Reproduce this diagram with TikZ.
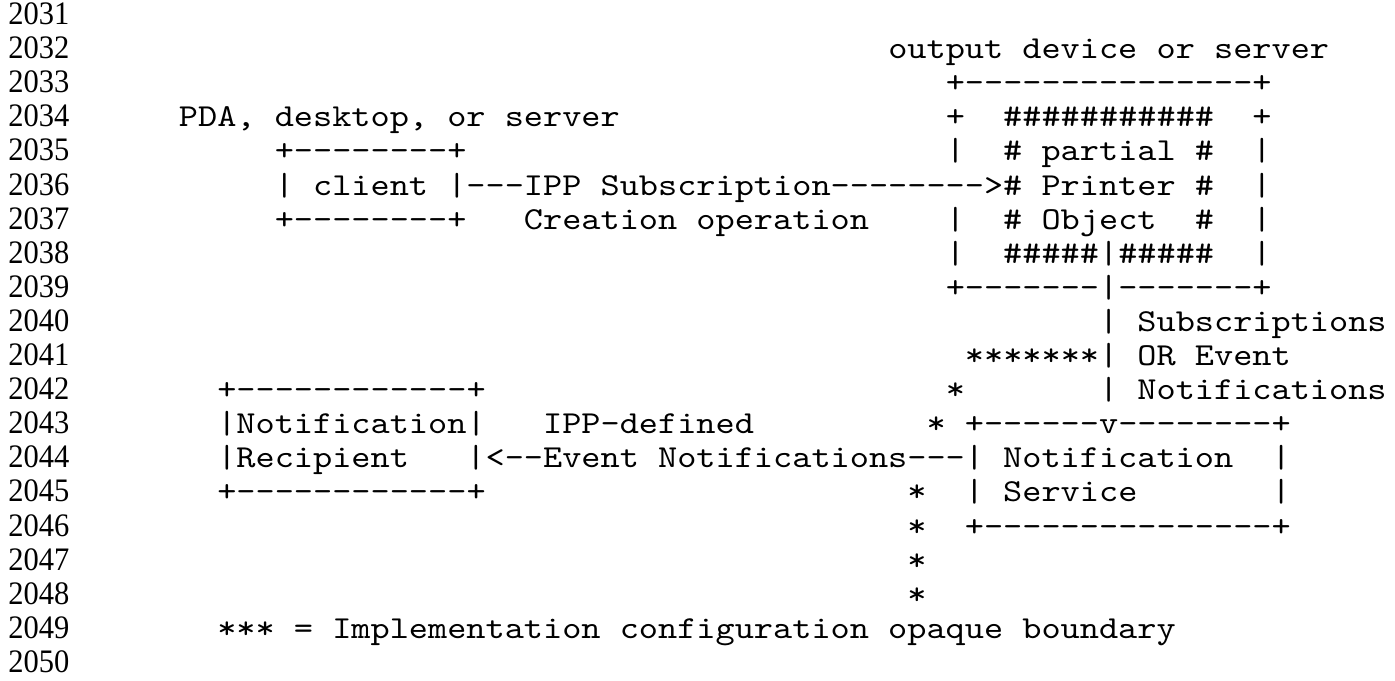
\documentclass[tikz,border=0pt]{standalone}
\usepackage{fontspec}
\setmonofont{lmmono10-regular.otf}[FakeStretch=1.141]
\newfontfamily\numfont{Liberation Serif}[FakeStretch=0.93]

\begin{document}
\begin{tikzpicture}[x=9.585pt,y=-17.05pt,
    mono/.style={font=\ttfamily\fontsize{16}{16}\selectfont,inner sep=0pt,anchor=base west},
    lnum/.style={font=\numfont\fontsize{16.4}{16.4}\selectfont,inner sep=0pt,anchor=base west}]

  % one unit = one character cell, one row = one text line
  \useasboundingbox (-11.315,-0.72) rectangle (61.456,19.222);
  \fill[white] (-11.315,-0.72) rectangle (61.456,19.222);

  % line numbers down the margin
  \foreach \r in {0,...,19}
  {
    \pgfmathtruncatemacro{\num}{2031+\r}
    \node[lnum] (num\r) at (-10.9,\r) {\num};
  }

  % client side
  \node[mono] (pda)       at (-2,3) {PDA, desktop, or server};
  \node[mono] (clienttop) at (3,4)  {+--------+};
  \node[mono] (client)    at (3,5)  {| client |---IPP Subscription-------->\# Printer \#~~|};
  \node[mono] (clientbot) at (3,6)  {+--------+~~~Creation operation};

  % output device with the partial printer object
  \node[mono] (device)    at (35,1) {output device or server};
  \node[mono] (devtop)    at (38,2) {+---------------+};
  \node[mono] (hashtop)   at (38,3) {+~~\#\#\#\#\#\#\#\#\#\#\#~~+};
  \node[mono] (partial)   at (38,4) {|~~\# partial \#~~|};
  \node[mono] (object)    at (38,6) {|~~\# Object~~\#~~|};
  \node[mono] (hashbot)   at (38,7) {|~~\#\#\#\#\#|\#\#\#\#\#~~|};
  \node[mono] (devbot)    at (38,8) {+-------|-------+};

  % link down to the notification service
  \node[mono] (subs)      at (46,9)  {| Subscriptions};
  \node[mono] (orevent)   at (39,10) {*******| OR Event};
  \node[mono] (star11)    at (38,11) {*};
  \node[mono] (notifs)    at (46,11) {| Notifications};

  % notification recipient
  \node[mono] (rectop)    at (0,11) {+------------+};
  \node[mono] (recname)   at (0,12) {|Notification|~~~IPP-defined};
  \node[mono] (svctop)    at (37,12) {* +------v--------+};
  \node[mono] (recarrow)  at (0,13) {|Recipient~~~|<--Event Notifications---| Notification~~|};
  \node[mono] (recbot)    at (0,14) {+------------+};
  \node[mono] (svcname)   at (36,14) {*~~| Service~~~~~~~|};
  \node[mono] (svcbot)    at (36,15) {*~~+---------------+};
  \node[mono] (star16)    at (36,16) {*};
  \node[mono] (star17)    at (36,17) {*};

  % legend
  \node[mono] (legend)    at (0,18) {*** = Implementation configuration opaque boundary};

\end{tikzpicture}
\end{document}
